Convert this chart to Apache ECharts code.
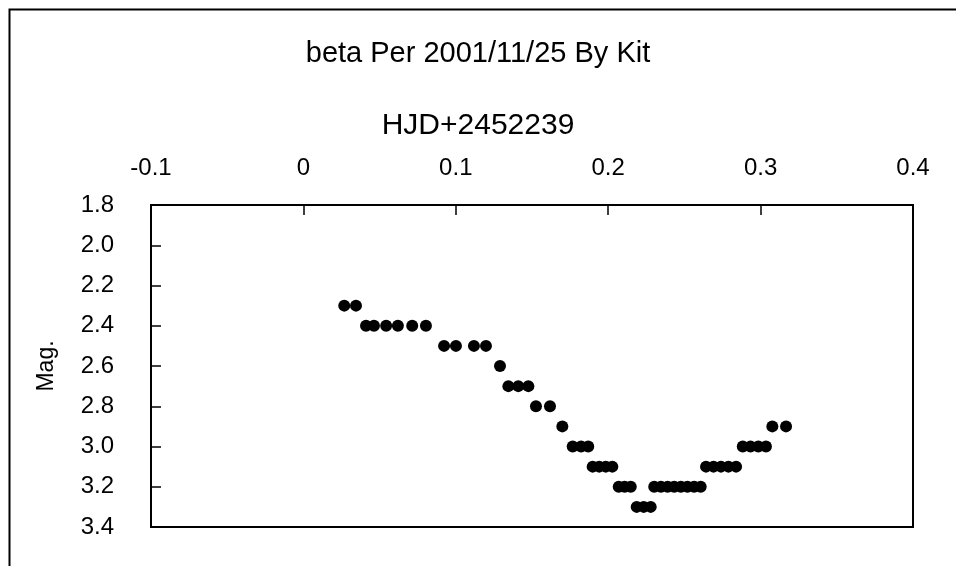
<!DOCTYPE html>
<html>
<head>
<meta charset="utf-8">
<script src="https://cdn.jsdelivr.net/npm/echarts@6/dist/echarts.min.js"></script>
<style>
html,body{margin:0;padding:0;background:#fff;}
#chart{width:956px;height:566px;}
</style>
</head>
<body>
<div id="chart"></div>
<script>
// beta Per light curve, 2001/11/25 — time offsets (HJD - 2452239) and visual magnitudes
const hjd = [
  0.0268, 0.0345,
  0.0411, 0.0463, 0.0543, 0.0620, 0.0714, 0.0804,
  0.0923, 0.1001, 0.1119, 0.1198,
  0.1290,
  0.1345, 0.1410, 0.1476,
  0.1526, 0.1618,
  0.1699,
  0.1767, 0.1822, 0.1869,
  0.1898, 0.1941, 0.1984, 0.2027,
  0.2069, 0.2108, 0.2148,
  0.2187, 0.2233, 0.2279,
  0.2302, 0.2346, 0.2390, 0.2433, 0.2477, 0.2520, 0.2564, 0.2607,
  0.2642, 0.2691, 0.2740, 0.2789, 0.2839,
  0.2883, 0.2934, 0.2985, 0.3035,
  0.3077, 0.3167
];
const mag = [
  2.3, 2.3,
  2.4, 2.4, 2.4, 2.4, 2.4, 2.4,
  2.5, 2.5, 2.5, 2.5,
  2.6,
  2.7, 2.7, 2.7,
  2.8, 2.8,
  2.9,
  3.0, 3.0, 3.0,
  3.1, 3.1, 3.1, 3.1,
  3.2, 3.2, 3.2,
  3.3, 3.3, 3.3,
  3.2, 3.2, 3.2, 3.2, 3.2, 3.2, 3.2, 3.2,
  3.1, 3.1, 3.1, 3.1, 3.1,
  3.0, 3.0, 3.0, 3.0,
  2.9, 2.9
];
const xTicks = [-0.1, 0, 0.1, 0.2, 0.3, 0.4];
const yTicks = [1.8, 2.0, 2.2, 2.4, 2.6, 2.8, 3.0, 3.2, 3.4];

const FONT = 'Liberation Sans';
const points = hjd.map((t, i) => [t, mag[i]]);

const chart = echarts.init(document.getElementById('chart'), null, {renderer: 'canvas'});
chart.setOption({
  animation: false,
  backgroundColor: '#fff',
  title: {
    text: 'beta Per 2001/11/25 By Kit',
    left: 'center',
    top: 34,
    textStyle: {fontFamily: FONT, fontSize: 29, fontWeight: 'normal', color: '#000'}
  },
  graphic: [{
    type: 'rect',
    shape: {x: 9.5, y: 9.5, width: 2000, height: 2000},
    style: {fill: 'none', stroke: '#000', lineWidth: 2},
    silent: true
  }],
  grid: {
    left: 151, right: 43, top: 205, bottom: 39,
    show: true, borderColor: '#000', borderWidth: 2, backgroundColor: 'transparent'
  },
  xAxis: {
    type: 'value',
    position: 'top',
    min: xTicks[0], max: xTicks[xTicks.length - 1], interval: 0.1,
    name: 'HJD+2452239',
    nameLocation: 'middle',
    nameGap: 64,
    // the name sits centred on the page rather than on the axis
    nameTextStyle: {fontFamily: FONT, fontSize: 30, color: '#000', padding: [0, 108, 0, 0]},
    axisLine: {onZero: false, lineStyle: {color: '#000', width: 2}},
    axisTick: {inside: true, length: 10, lineStyle: {color: '#000', width: 1.5}},
    axisLabel: {
      fontFamily: FONT, fontSize: 24, color: '#000', margin: 25,
      showMinLabel: true, showMaxLabel: true,
      formatter: v => String(Math.round(v * 10) / 10)
    },
    splitLine: {show: false}
  },
  yAxis: {
    type: 'value',
    inverse: true,
    min: yTicks[0], max: yTicks[yTicks.length - 1], interval: 0.2,
    name: 'Mag.',
    nameLocation: 'middle',
    nameRotate: 90,
    nameGap: 93,
    nameTextStyle: {fontFamily: FONT, fontSize: 23, color: '#000'},
    axisLine: {onZero: false, lineStyle: {color: '#000', width: 2}},
    axisTick: {inside: true, length: 10, lineStyle: {color: '#000', width: 1.5}},
    axisLabel: {
      fontFamily: FONT, fontSize: 24, color: '#000', margin: 37,
      showMinLabel: true, showMaxLabel: true,
      formatter: v => v.toFixed(1)
    },
    splitLine: {show: false}
  },
  series: [{
    type: 'scatter',
    data: points,
    symbol: 'circle',
    symbolSize: 12,
    itemStyle: {color: '#000', opacity: 1},
    clip: false
  }]
});
</script>
</body>
</html>
